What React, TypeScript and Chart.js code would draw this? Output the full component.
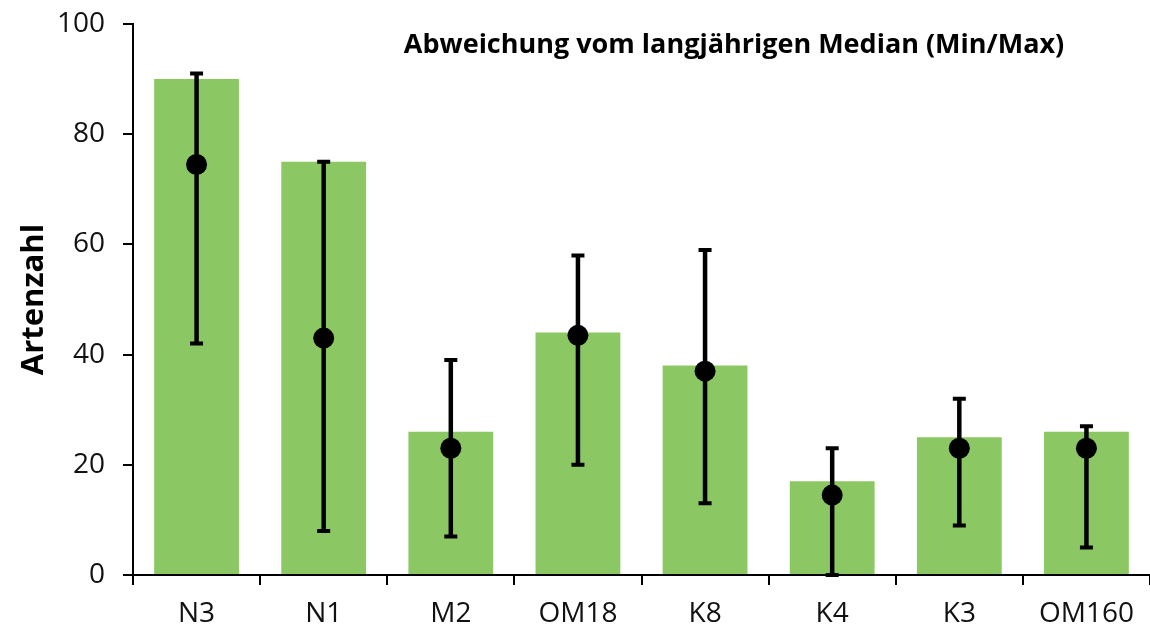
import React, { useEffect, useRef } from "react";
import { Chart, registerables } from "chart.js";

Chart.register(...registerables);

const categories = ["N3", "N1", "M2", "OM18", "K8", "K4", "K3", "OM160"];
const barValues = [90, 75, 26, 44, 38, 17, 25, 26];
const medianValues = [74.5, 43, 23, 43.5, 37, 14.5, 23, 23];
const minValues = [42, 8, 7, 20, 13, 0, 9, 5];
const maxValues = [91, 75, 39, 58, 59, 23, 32, 27];
const yTicks = [0, 20, 40, 60, 80, 100];
const titleText = "Abweichung vom langjährigen Median (Min/Max)";
const yAxisTitle = "Artenzahl";

const FONT = "'Open Sans', 'Noto Sans', sans-serif";

const errorBarPlugin = {
  id: "errorBars",
  afterDatasetDraw(chart: any, args: any) {
    if (args.index !== 0) return;
    const { ctx, scales } = chart;
    const xs = scales.x;
    const ys = scales.y;
    ctx.save();
    ctx.strokeStyle = "#000";
    ctx.lineCap = "butt";
    categories.forEach((_, i) => {
      const x = xs.getPixelForValue(i);
      const yMin = ys.getPixelForValue(minValues[i]);
      const yMax = ys.getPixelForValue(maxValues[i]);
      ctx.lineWidth = 4.5;
      ctx.beginPath();
      ctx.moveTo(x, yMin);
      ctx.lineTo(x, yMax);
      ctx.stroke();
      ctx.lineWidth = 4;
      ctx.beginPath();
      ctx.moveTo(x - 6.5, yMin);
      ctx.lineTo(x + 6.5, yMin);
      ctx.moveTo(x - 6.5, yMax);
      ctx.lineTo(x + 6.5, yMax);
      ctx.stroke();
    });
    ctx.restore();
  },
};

const innerTitlePlugin = {
  id: "innerTitle",
  afterDraw(chart: any) {
    const { ctx, chartArea } = chart;
    ctx.save();
    ctx.font = `bold 27px ${FONT}`;
    ctx.fillStyle = "#000";
    ctx.textAlign = "center";
    ctx.textBaseline = "middle";
    const x = chartArea.left + (chartArea.right - chartArea.left) * 0.591;
    ctx.fillText(titleText, x, chartArea.top + 21);
    ctx.restore();
  },
};

export default function App() {
  const ref = useRef<HTMLCanvasElement | null>(null);

  useEffect(() => {
    document.body.style.margin = "0";
    if (!ref.current) return;
    const chart = new Chart(ref.current, {
      type: "bar",
      data: {
        labels: categories,
        datasets: [
          {
            type: "bar",
            data: barValues,
            backgroundColor: "#8BC763",
            barPercentage: 0.667,
            categoryPercentage: 1,
            order: 2,
          } as any,
          {
            type: "line",
            data: medianValues,
            showLine: false,
            pointRadius: 10.5,
            pointBackgroundColor: "#000",
            pointBorderColor: "#000",
            pointBorderWidth: 0,
            order: 1,
          } as any,
        ],
      },
      options: {
        animation: false,
        responsive: false,
        devicePixelRatio: 1,
        layout: {
          autoPadding: false,
          padding: { top: 24, right: 0, left: 0, bottom: 0 },
        },
        plugins: {
          legend: { display: false },
          tooltip: { enabled: false },
          title: { display: false },
        },
        scales: {
          x: {
            offset: true,
            grid: {
              drawOnChartArea: false,
              drawTicks: true,
              tickLength: 10,
              color: "#000",
              lineWidth: 2,
              offset: true,
            },
            border: { color: "#000", width: 2 },
            ticks: {
              color: "#111",
              font: { family: FONT, size: 28 },
              padding: 12,
            },
            afterFit: (s: any) => {
              s.height = 55;
              s.paddingLeft = 0;
              s.paddingRight = 0;
            },
          },
          y: {
            min: 0,
            max: 100,
            afterBuildTicks: (s: any) => {
              s.ticks = yTicks.map((v) => ({ value: v }));
            },
            grid: {
              drawOnChartArea: false,
              drawTicks: true,
              tickLength: 10,
              color: "#000",
              lineWidth: 2,
            },
            border: { color: "#000", width: 2 },
            ticks: {
              color: "#111",
              font: { family: FONT, size: 28 },
              padding: 18,
            },
            title: {
              display: true,
              text: yAxisTitle,
              color: "#000",
              font: { family: FONT, size: 31, weight: "bold" },
              padding: { top: 16, bottom: 0 },
            },
            afterFit: (s: any) => {
              s.width = 133;
              s.paddingTop = 0;
              s.paddingBottom = 0;
            },
          },
        },
      },
      plugins: [errorBarPlugin, innerTitlePlugin],
    });
    return () => chart.destroy();
  }, []);

  return (
    <div style={{ width: 1150, height: 630 }}>
      <canvas ref={ref} width={1150} height={630} />
    </div>
  );
}
